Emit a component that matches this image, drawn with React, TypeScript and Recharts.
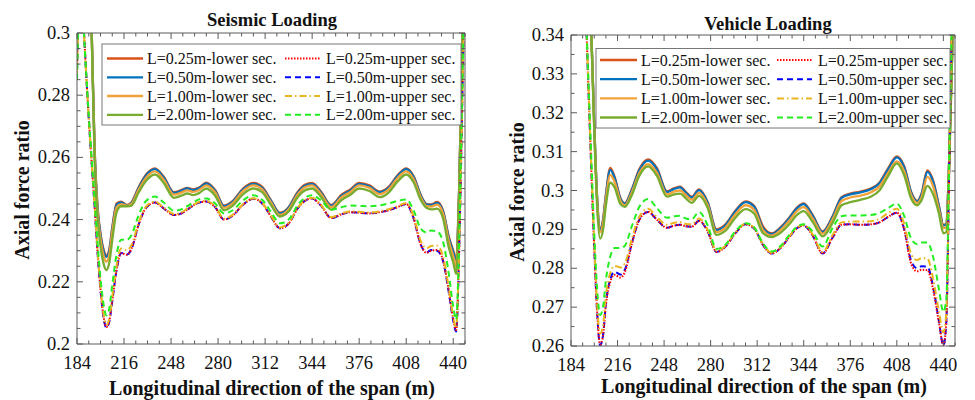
import React from 'react';
import { LineChart, Line, XAxis, YAxis } from 'recharts';

const SERIF = '"Liberation Serif", "Times New Roman", Times, serif';
const FRAME = '#5a5a5a';
const INK = '#111';

// longitudinal position along the span (m), shared by both panels
const spanX = [
  184, 186, 188, 190, 192, 194, 196, 198, 200, 202,
  204, 206, 208, 211, 214, 218, 221, 226, 231, 237,
  243, 250, 255, 259, 263, 267, 272, 278, 284, 290,
  297, 304, 310, 316, 322, 328, 334, 339, 344, 350,
  357, 364, 370, 376, 383, 390, 396, 402, 408, 413,
  418, 422, 425, 429, 433, 437, 440, 442, 444, 446, 448,
];

// Seismic loading
const seismicLower025 = [
  0.400, 0.390, 0.375, 0.355, 0.330, 0.300, 0.263, 0.244, 0.2355, 0.2305,
  0.2285, 0.2305, 0.2375, 0.2452, 0.2458, 0.2447, 0.2455, 0.2505, 0.2545, 0.2565,
  0.2538, 0.2488, 0.2495, 0.2502, 0.2497, 0.2503, 0.2519, 0.2495, 0.2445, 0.2460,
  0.2500, 0.2518, 0.2505, 0.2462, 0.2422, 0.2440, 0.2488, 0.2512, 0.2518, 0.2490,
  0.2447, 0.2480, 0.2497, 0.2518, 0.2510, 0.2490, 0.2505, 0.2542, 0.2565, 0.2540,
  0.2478, 0.2450, 0.2449, 0.2457, 0.2430, 0.2345, 0.2300, 0.2268, 0.2500, 0.2920, 0.3450,
];
const seismicLower050 = [
  0.400, 0.390, 0.375, 0.355, 0.330, 0.300, 0.262, 0.2435, 0.2350, 0.2300,
  0.2280, 0.2300, 0.2370, 0.2448, 0.2455, 0.2446, 0.2453, 0.2502, 0.2542, 0.2562,
  0.2535, 0.2486, 0.2493, 0.2500, 0.2495, 0.2501, 0.2516, 0.2492, 0.2443, 0.2458,
  0.2497, 0.2515, 0.2502, 0.2460, 0.2420, 0.2438, 0.2485, 0.2509, 0.2515, 0.2487,
  0.2445, 0.2477, 0.2494, 0.2515, 0.2507, 0.2488, 0.2502, 0.2539, 0.2562, 0.2537,
  0.2476, 0.2448, 0.2447, 0.2454, 0.2427, 0.2340, 0.2295, 0.2262, 0.2495, 0.2915, 0.3450,
];
const seismicLower100 = [
  0.400, 0.390, 0.375, 0.355, 0.330, 0.300, 0.261, 0.2425, 0.2338, 0.2285,
  0.2265, 0.2288, 0.2360, 0.2440, 0.2450, 0.2445, 0.2450, 0.2497, 0.2535, 0.2555,
  0.2528, 0.2480, 0.2487, 0.2494, 0.2489, 0.2495, 0.2510, 0.2487, 0.2438, 0.2453,
  0.2492, 0.2510, 0.2497, 0.2455, 0.2415, 0.2433, 0.2480, 0.2504, 0.2510, 0.2482,
  0.2440, 0.2472, 0.2489, 0.2510, 0.2502, 0.2482, 0.2497, 0.2533, 0.2555, 0.2530,
  0.2470, 0.2443, 0.2442, 0.2448, 0.2420, 0.2330, 0.2282, 0.2250, 0.2485, 0.2910, 0.3450,
];
const seismicLower200 = [
  0.400, 0.390, 0.375, 0.355, 0.330, 0.300, 0.259, 0.2405, 0.2315, 0.2260,
  0.2238, 0.2262, 0.2335, 0.2425, 0.2443, 0.2443, 0.2445, 0.2488, 0.2525, 0.2545,
  0.2518, 0.2470, 0.2477, 0.2484, 0.2479, 0.2485, 0.2500, 0.2477, 0.2430, 0.2445,
  0.2482, 0.2500, 0.2488, 0.2447, 0.2410, 0.2426, 0.2471, 0.2494, 0.2500, 0.2473,
  0.2432, 0.2463, 0.2480, 0.2500, 0.2492, 0.2472, 0.2487, 0.2522, 0.2545, 0.2520,
  0.2462, 0.2437, 0.2433, 0.2435, 0.2405, 0.2310, 0.2262, 0.2225, 0.2470, 0.2900, 0.3450,
];
const seismicUpper025 = [
  0.2880, 0.3150, 0.3060, 0.2890, 0.2725, 0.2580, 0.2440, 0.2295, 0.2175, 0.2090,
  0.2055, 0.2075, 0.2140, 0.2240, 0.2292, 0.2287, 0.2305, 0.2385, 0.2438, 0.2455,
  0.2436, 0.2415, 0.2420, 0.2432, 0.2445, 0.2455, 0.2458, 0.2440, 0.2400, 0.2413,
  0.2448, 0.2467, 0.2452, 0.2410, 0.2372, 0.2387, 0.2435, 0.2460, 0.2468, 0.2445,
  0.2405, 0.2417, 0.2424, 0.2422, 0.2420, 0.2424, 0.2430, 0.2440, 0.2450, 0.2405,
  0.2318, 0.2293, 0.2300, 0.2302, 0.2270, 0.2170, 0.2080, 0.2045, 0.2300, 0.2750, 0.3300,
];
const seismicUpper050 = [
  0.2880, 0.3150, 0.3060, 0.2890, 0.2725, 0.2580, 0.2440, 0.2293, 0.2172, 0.2087,
  0.2052, 0.2073, 0.2138, 0.2240, 0.2293, 0.2288, 0.2305, 0.2385, 0.2438, 0.2455,
  0.2436, 0.2415, 0.2420, 0.2432, 0.2445, 0.2455, 0.2458, 0.2440, 0.2400, 0.2413,
  0.2448, 0.2467, 0.2452, 0.2410, 0.2372, 0.2387, 0.2435, 0.2460, 0.2468, 0.2445,
  0.2405, 0.2417, 0.2424, 0.2422, 0.2420, 0.2424, 0.2430, 0.2440, 0.2450, 0.2405,
  0.2318, 0.2295, 0.2302, 0.2300, 0.2268, 0.2165, 0.2075, 0.2040, 0.2295, 0.2745, 0.3300,
];
const seismicUpper100 = [
  0.2870, 0.3140, 0.3055, 0.2890, 0.2728, 0.2585, 0.2447, 0.2303, 0.2183, 0.2098,
  0.2062, 0.2083, 0.2152, 0.2255, 0.2307, 0.2302, 0.2318, 0.2392, 0.2442, 0.2458,
  0.2439, 0.2418, 0.2423, 0.2435, 0.2447, 0.2457, 0.2460, 0.2443, 0.2403, 0.2416,
  0.2450, 0.2469, 0.2454, 0.2413, 0.2375, 0.2390, 0.2437, 0.2462, 0.2470, 0.2448,
  0.2408, 0.2420, 0.2427, 0.2425, 0.2423, 0.2427, 0.2433, 0.2443, 0.2453, 0.2412,
  0.2330, 0.2308, 0.2315, 0.2316, 0.2283, 0.2180, 0.2088, 0.2052, 0.2305, 0.2750, 0.3300,
];
const seismicUpper200 = [
  0.2850, 0.3120, 0.3050, 0.2890, 0.2735, 0.2595, 0.2460, 0.2325, 0.2210, 0.2130,
  0.2092, 0.2115, 0.2190, 0.2290, 0.2335, 0.2335, 0.2350, 0.2415, 0.2460, 0.2474,
  0.2455, 0.2429, 0.2433, 0.2443, 0.2455, 0.2465, 0.2468, 0.2452, 0.2420, 0.2430,
  0.2462, 0.2478, 0.2464, 0.2425, 0.2388, 0.2400, 0.2445, 0.2470, 0.2478, 0.2462,
  0.2432, 0.2440, 0.2445, 0.2444, 0.2443, 0.2446, 0.2452, 0.2460, 0.2465, 0.2430,
  0.2370, 0.2358, 0.2365, 0.2362, 0.2330, 0.2225, 0.2120, 0.2078, 0.2330, 0.2780, 0.3300,
];

// Vehicle loading
const vehicleLower025 = [
  0.420, 0.410, 0.400, 0.390, 0.380, 0.368, 0.355, 0.340, 0.317, 0.2980,
  0.2903, 0.2925, 0.2990, 0.3058, 0.3035, 0.2980, 0.2967, 0.3005, 0.3055, 0.3080,
  0.3058, 0.2998, 0.3006, 0.3010, 0.2996, 0.2984, 0.3003, 0.2970, 0.2900, 0.2912,
  0.2948, 0.2972, 0.2960, 0.2908, 0.2890, 0.2905, 0.2930, 0.2955, 0.2967, 0.2938,
  0.2895, 0.2935, 0.2983, 0.2992, 0.2997, 0.3005, 0.3020, 0.3057, 0.3088, 0.3063,
  0.2995, 0.2973, 0.2992, 0.3052, 0.3025, 0.2960, 0.2912, 0.2915, 0.3080, 0.3350, 0.3700,
];
const vehicleLower050 = [
  0.420, 0.410, 0.400, 0.390, 0.380, 0.368, 0.355, 0.340, 0.317, 0.2978,
  0.2900, 0.2922, 0.2987, 0.3053, 0.3032, 0.2978, 0.2966, 0.3003, 0.3052, 0.3077,
  0.3055, 0.2996, 0.3004, 0.3008, 0.2994, 0.2982, 0.3001, 0.2968, 0.2898, 0.2910,
  0.2946, 0.2970, 0.2958, 0.2903, 0.2888, 0.2903, 0.2928, 0.2953, 0.2965, 0.2936,
  0.2893, 0.2933, 0.2981, 0.2990, 0.2995, 0.3003, 0.3018, 0.3054, 0.3085, 0.3060,
  0.2993, 0.2972, 0.2990, 0.3048, 0.3022, 0.2958, 0.2910, 0.2913, 0.3078, 0.3350, 0.3700,
];
const vehicleLower100 = [
  0.420, 0.410, 0.400, 0.390, 0.380, 0.368, 0.355, 0.340, 0.316, 0.2970,
  0.2893, 0.2915, 0.2978, 0.3040, 0.3022, 0.2973, 0.2962, 0.2997, 0.3045, 0.3068,
  0.3046, 0.2990, 0.2997, 0.3000, 0.2988, 0.2976, 0.2994, 0.2962, 0.2893, 0.2904,
  0.2939, 0.2962, 0.2950, 0.2898, 0.2884, 0.2898, 0.2922, 0.2946, 0.2957, 0.2929,
  0.2889, 0.2927, 0.2973, 0.2982, 0.2987, 0.2995, 0.3010, 0.3045, 0.3075, 0.3050,
  0.2987, 0.2968, 0.2983, 0.3035, 0.3010, 0.2950, 0.2903, 0.2906, 0.3070, 0.3345, 0.3700,
];
const vehicleLower200 = [
  0.420, 0.410, 0.400, 0.390, 0.380, 0.368, 0.355, 0.340, 0.315, 0.2955,
  0.2876, 0.2898, 0.2962, 0.3020, 0.3008, 0.2965, 0.2958, 0.2990, 0.3038, 0.3062,
  0.3038, 0.2984, 0.2990, 0.2992, 0.2980, 0.2968, 0.2986, 0.2955, 0.2886, 0.2896,
  0.2930, 0.2952, 0.2940, 0.2890, 0.2880, 0.2891, 0.2913, 0.2936, 0.2947, 0.2920,
  0.2882, 0.2918, 0.2962, 0.2970, 0.2976, 0.2984, 0.3000, 0.3037, 0.3070, 0.3040,
  0.2978, 0.2962, 0.2975, 0.3012, 0.2990, 0.2940, 0.2890, 0.2893, 0.3060, 0.3340, 0.3700,
];
const vehicleUpper025 = [
  0.420, 0.410, 0.395, 0.380, 0.365, 0.348, 0.326, 0.305, 0.285, 0.2685,
  0.2604, 0.2625, 0.2705, 0.2765, 0.2783, 0.2776, 0.2790, 0.2865, 0.2925, 0.2945,
  0.2925, 0.2904, 0.2910, 0.2912, 0.2908, 0.2907, 0.2922, 0.2895, 0.2842, 0.2855,
  0.2890, 0.2913, 0.2902, 0.2860, 0.2838, 0.2852, 0.2880, 0.2902, 0.2910, 0.2885,
  0.2838, 0.2880, 0.2912, 0.2913, 0.2912, 0.2913, 0.2918, 0.2932, 0.2943, 0.2900,
  0.2810, 0.2792, 0.2796, 0.2795, 0.2745, 0.2660, 0.2603, 0.2660, 0.3050, 0.3500, 0.4000,
];
const vehicleUpper050 = [
  0.420, 0.410, 0.395, 0.380, 0.365, 0.348, 0.326, 0.305, 0.285, 0.2685,
  0.2602, 0.2627, 0.2710, 0.2772, 0.2791, 0.2784, 0.2796, 0.2867, 0.2925, 0.2945,
  0.2925, 0.2904, 0.2910, 0.2912, 0.2908, 0.2907, 0.2922, 0.2895, 0.2842, 0.2855,
  0.2890, 0.2913, 0.2902, 0.2860, 0.2838, 0.2852, 0.2880, 0.2902, 0.2910, 0.2885,
  0.2838, 0.2880, 0.2912, 0.2913, 0.2912, 0.2913, 0.2918, 0.2932, 0.2943, 0.2902,
  0.2817, 0.2800, 0.2805, 0.2804, 0.2752, 0.2663, 0.2601, 0.2660, 0.3050, 0.3500, 0.4000,
];
const vehicleUpper100 = [
  0.420, 0.410, 0.395, 0.380, 0.365, 0.348, 0.327, 0.306, 0.2865, 0.2705,
  0.2632, 0.2652, 0.2730, 0.2788, 0.2806, 0.2802, 0.2812, 0.2878, 0.2933, 0.2953,
  0.2932, 0.2912, 0.2917, 0.2919, 0.2914, 0.2913, 0.2928, 0.2899, 0.2845, 0.2857,
  0.2892, 0.2915, 0.2904, 0.2862, 0.2840, 0.2854, 0.2882, 0.2904, 0.2912, 0.2888,
  0.2842, 0.2887, 0.2918, 0.2920, 0.2920, 0.2921, 0.2927, 0.2942, 0.2953, 0.2915,
  0.2835, 0.2821, 0.2826, 0.2825, 0.2772, 0.2688, 0.2635, 0.2685, 0.3060, 0.3500, 0.4000,
];
const vehicleUpper200 = [
  0.420, 0.410, 0.395, 0.380, 0.365, 0.348, 0.328, 0.308, 0.289, 0.2745,
  0.2680, 0.2700, 0.2770, 0.2830, 0.2852, 0.2852, 0.2858, 0.2910, 0.2958, 0.2978,
  0.2955, 0.2930, 0.2934, 0.2935, 0.2928, 0.2926, 0.2945, 0.2910, 0.2850, 0.2860,
  0.2895, 0.2916, 0.2905, 0.2864, 0.2843, 0.2857, 0.2885, 0.2906, 0.2913, 0.2895,
  0.2856, 0.2905, 0.2934, 0.2936, 0.2936, 0.2937, 0.2942, 0.2955, 0.2966, 0.2935,
  0.2875, 0.2862, 0.2866, 0.2866, 0.2828, 0.2745, 0.2688, 0.2720, 0.3080, 0.3500, 0.4000,
];

// tick labels
const spanLabels = [184, 216, 248, 280, 312, 344, 376, 408, 440];
const seismicYLabels = [0.2, 0.22, 0.24, 0.26, 0.28, 0.3];
const vehicleYLabels = [0.26, 0.27, 0.28, 0.29, 0.3, 0.31, 0.32, 0.33, 0.34];

type SeriesStyle = { key: string; name: string; color: string; width: number; dash?: string };

const seriesStyles: SeriesStyle[] = [
  { key: 'low025', name: 'L=0.25m-lower sec.', color: '#D95319', width: 2.3 },
  { key: 'low050', name: 'L=0.50m-lower sec.', color: '#0072BD', width: 2.3 },
  { key: 'low100', name: 'L=1.00m-lower sec.', color: '#F2A13B', width: 2.3 },
  { key: 'low200', name: 'L=2.00m-lower sec.', color: '#77AC30', width: 2.3 },
  { key: 'up025', name: 'L=0.25m-upper sec.', color: '#FF0000', width: 2, dash: '1.5 1.5' },
  { key: 'up050', name: 'L=0.50m-upper sec.', color: '#0000FF', width: 2, dash: '6 4' },
  { key: 'up100', name: 'L=1.00m-upper sec.', color: '#E8B620', width: 2, dash: '7 3 1.5 3' },
  { key: 'up200', name: 'L=2.00m-upper sec.', color: '#22EE22', width: 2, dash: '6 4' },
];
const drawOrder = ['low025', 'low050', 'low100', 'low200', 'up050', 'up025', 'up100', 'up200'];

const buildRows = (cols: Record<string, number[]>) =>
  spanX.map((x, i) => {
    const row: Record<string, number> = { x };
    Object.keys(cols).forEach((k) => (row[k] = cols[k][i]));
    return row;
  });

const seismicRows = buildRows({
  low025: seismicLower025, low050: seismicLower050, low100: seismicLower100, low200: seismicLower200,
  up025: seismicUpper025, up050: seismicUpper050, up100: seismicUpper100, up200: seismicUpper200,
});
const vehicleRows = buildRows({
  low025: vehicleLower025, low050: vehicleLower050, low100: vehicleLower100, low200: vehicleLower200,
  up025: vehicleUpper025, up050: vehicleUpper050, up100: vehicleUpper100, up200: vehicleUpper200,
});

// tick positions (majors + minor marks)
const steps = (a: number, b: number, s: number) => {
  const out: number[] = [];
  for (let v = a; v <= b + s / 1000; v += s) out.push(Number(v.toFixed(4)));
  return out;
};
const spanTicks = steps(184, 448, 8);

const isMajor = (v: number, labels: number[]) => labels.some((m) => Math.abs(m - v) < 1e-9);
const fmt = (v: number) => String(Number(v.toFixed(3)));

function makeTick(side: 'bottom' | 'top' | 'left' | 'right', labels: number[]) {
  return (props: any) => {
    const { x, y, payload } = props;
    const v = Number(payload.value);
    const major = isMajor(v, labels);
    const len = major ? 6 : 3.5;
    if (side === 'bottom') {
      return (
        <g>
          <line x1={x} y1={y} x2={x} y2={y - len} stroke={FRAME} />
          {major && (
            <text x={x} y={y + 25} textAnchor="middle" fontFamily={SERIF} fontSize={18.5} fill={INK}>
              {fmt(v)}
            </text>
          )}
        </g>
      );
    }
    if (side === 'top') return <line x1={x} y1={y} x2={x} y2={y + len} stroke={FRAME} />;
    if (side === 'left') {
      return (
        <g>
          <line x1={x} y1={y} x2={x + len} y2={y} stroke={FRAME} />
          {major && (
            <text x={x - 7} y={y + 6} textAnchor="end" fontFamily={SERIF} fontSize={18.5} fill={INK}>
              {fmt(v)}
            </text>
          )}
        </g>
      );
    }
    return <line x1={x} y1={y} x2={x - len} y2={y} stroke={FRAME} />;
  };
}

type PanelProps = {
  left: number;
  width: number;
  plotLeft: number;
  plotRight: number;
  plotTop: number;
  plotBottom: number;
  rows: Record<string, number>[];
  yDomain: [number, number];
  yLabels: number[];
  yTicks: number[];
};

const CHART_H = 400;
const X_AXIS_H = 30;

const Panel = ({ left, width, plotLeft, plotRight, plotTop, plotBottom, rows, yDomain, yLabels, yTicks }: PanelProps) => (
  <div style={{ position: 'absolute', left, top: 0 }}>
    <LineChart
      width={width}
      height={CHART_H}
      data={rows}
      margin={{ top: plotTop - 1, right: left + width - plotRight - 1, bottom: CHART_H - plotBottom - X_AXIS_H, left: 0 }}
    >
      <XAxis
        xAxisId="b"
        dataKey="x"
        type="number"
        domain={[184, 448]}
        allowDataOverflow
        ticks={spanTicks}
        interval={0}
        height={X_AXIS_H}
        tickLine={false}
        tickSize={0}
        tickMargin={0}
        axisLine={{ stroke: FRAME }}
        tick={makeTick('bottom', spanLabels)}
      />
      <XAxis
        xAxisId="t"
        orientation="top"
        dataKey="x"
        type="number"
        domain={[184, 448]}
        allowDataOverflow
        ticks={spanTicks}
        interval={0}
        height={1}
        tickLine={false}
        tickSize={0}
        tickMargin={0}
        axisLine={{ stroke: FRAME }}
        tick={makeTick('top', spanLabels)}
      />
      <YAxis
        yAxisId="l"
        type="number"
        domain={yDomain}
        allowDataOverflow
        ticks={yTicks}
        interval={0}
        width={plotLeft - left}
        tickLine={false}
        tickSize={0}
        tickMargin={0}
        axisLine={{ stroke: FRAME }}
        tick={makeTick('left', yLabels)}
      />
      <YAxis
        yAxisId="r"
        orientation="right"
        type="number"
        domain={yDomain}
        allowDataOverflow
        ticks={yTicks}
        interval={0}
        width={1}
        tickLine={false}
        tickSize={0}
        tickMargin={0}
        axisLine={{ stroke: FRAME }}
        tick={makeTick('right', yLabels)}
      />
      {drawOrder.map((k) => {
        const s = seriesStyles.find((d) => d.key === k)!;
        return (
          <Line
            key={k}
            xAxisId="b"
            yAxisId="l"
            type="monotone"
            dataKey={k}
            name={s.name}
            stroke={s.color}
            strokeWidth={s.width}
            strokeDasharray={s.dash}
            dot={false}
            activeDot={false}
            isAnimationActive={false}
          />
        );
      })}
    </LineChart>
  </div>
);

type LegendProps = {
  x: number; y: number; w: number; h: number;
  rowY: number[];
  sample1: [number, number]; text1: number;
  sample2: [number, number]; text2: number;
};

const LegendBox = ({ x, y, w, h, rowY, sample1, text1, sample2, text2 }: LegendProps) => {
  const lower = seriesStyles.slice(0, 4);
  const upper = seriesStyles.slice(4);
  return (
    <g>
      <rect x={x} y={y} width={w} height={h} fill="#fff" stroke="#777" strokeWidth={1} />
      {rowY.map((ry, i) => (
        <g key={i}>
          <line x1={sample1[0]} x2={sample1[1]} y1={ry} y2={ry} stroke={lower[i].color} strokeWidth={lower[i].width} />
          <text x={text1} y={ry + 5.5} fontFamily={SERIF} fontSize={16} fill={INK}>{lower[i].name}</text>
          <line x1={sample2[0]} x2={sample2[1]} y1={ry} y2={ry} stroke={upper[i].color} strokeWidth={upper[i].width} strokeDasharray={upper[i].dash} />
          <text x={text2} y={ry + 5.5} fontFamily={SERIF} fontSize={16} fill={INK}>{upper[i].name}</text>
        </g>
      ))}
    </g>
  );
};

const boldText = { fontFamily: SERIF, fontWeight: 700, fill: INK } as const;

export default function App() {
  return (
    <div style={{ position: 'absolute', left: 0, top: 0, width: 975, height: 400, background: '#fff', overflow: 'hidden' }}>
      <Panel
        left={0}
        width={480}
        plotLeft={77}
        plotRight={465}
        plotTop={33}
        plotBottom={344}
        rows={seismicRows}
        yDomain={[0.2, 0.3]}
        yLabels={seismicYLabels}
        yTicks={steps(0.2, 0.3, 0.005)}
      />
      <Panel
        left={490}
        width={485}
        plotLeft={571}
        plotRight={955}
        plotTop={35}
        plotBottom={346}
        rows={vehicleRows}
        yDomain={[0.26, 0.34]}
        yLabels={vehicleYLabels}
        yTicks={steps(0.26, 0.34, 0.005)}
      />
      <svg width={975} height={400} style={{ position: 'absolute', left: 0, top: 0, pointerEvents: 'none' }}>
        <text x={272} y={26} textAnchor="middle" fontSize={18.5} {...boldText}>Seismic Loading</text>
        <text x={768} y={30} textAnchor="middle" fontSize={18.5} {...boldText}>Vehicle Loading</text>
        <text x={29} y={190} textAnchor="middle" fontSize={20} transform="rotate(-90 29 190)" {...boldText}>Axial force ratio</text>
        <text x={524} y={192} textAnchor="middle" fontSize={20} transform="rotate(-90 524 192)" {...boldText}>Axial force ratio</text>
        <text x={272} y={395} textAnchor="middle" fontSize={20} {...boldText}>Longitudinal direction of the span (m)</text>
        <text x={764} y={393} textAnchor="middle" fontSize={20} {...boldText}>Longitudinal direction of the span (m)</text>
        <LegendBox
          x={102} y={44} w={359} h={81}
          rowY={[58.5, 77.3, 96, 114.8]}
          sample1={[107, 143]} text1={147}
          sample2={[285, 320]} text2={326}
        />
        <LegendBox
          x={596} y={48.5} w={354} h={79.5}
          rowY={[60, 79.2, 98.4, 117.5]}
          sample1={[600, 637]} text1={641}
          sample2={[777, 812]} text2={818}
        />
      </svg>
    </div>
  );
}
